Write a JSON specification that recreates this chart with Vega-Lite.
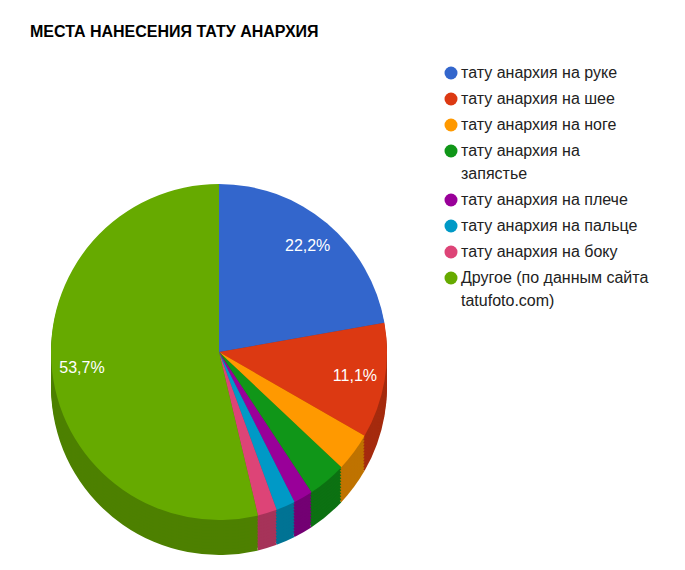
{
  "$schema": "https://vega.github.io/schema/vega-lite/v6.json",
  "autosize": "none",
  "padding": {"left": 0, "top": 65, "right": 247, "bottom": 0},
  "width": 438,
  "height": 574,
  "background": "white",
  "title": {
    "text": "МЕСТА НАНЕСЕНИЯ ТАТУ АНАРХИЯ",
    "anchor": "start",
    "orient": "top",
    "offset": 25,
    "dx": 30,
    "font": "Liberation Sans",
    "fontSize": 16,
    "fontWeight": "bold",
    "color": "#000000"
  },
  "data": {
    "values": [
      {"idx": 1, "place": "тату анархия на руке", "pct": 22.2, "label": "22,2%"},
      {"idx": 2, "place": "тату анархия на шее", "pct": 11.1, "label": "11,1%"},
      {"idx": 3, "place": "тату анархия на ноге", "pct": 3.7, "label": ""},
      {"idx": 4, "place": "тату анархия на запястье", "pct": 3.7, "label": ""},
      {"idx": 5, "place": "тату анархия на плече", "pct": 1.85, "label": ""},
      {"idx": 6, "place": "тату анархия на пальце", "pct": 1.85, "label": ""},
      {"idx": 7, "place": "тату анархия на боку", "pct": 1.85, "label": ""},
      {"idx": 8, "place": "Другое (по данным сайта tatufoto.com)", "pct": 53.7, "label": "53,7%"}
    ]
  },
  "encoding": {
    "theta": {"field": "pct", "type": "quantitative", "stack": true},
    "order": {"field": "idx", "type": "quantitative"}
  },
  "layer": [
    {
      "encoding": {
        "color": {
          "field": "place",
          "type": "nominal",
          "legend": null,
          "scale": {
            "domain": ["тату анархия на руке", "тату анархия на шее", "тату анархия на ноге", "тату анархия на запястье", "тату анархия на плече", "тату анархия на пальце", "тату анархия на боку", "Другое (по данным сайта tatufoto.com)"],
            "range": ["#264d99", "#a52b0e", "#bf7300", "#0c7112", "#730073", "#007394", "#a63359", "#4d8000"]
          }
        }
      },
      "layer": [
        {"mark": {"type": "arc", "outerRadius": 168, "yOffset": 35}},
        {"mark": {"type": "arc", "outerRadius": 168, "yOffset": 32}},
        {"mark": {"type": "arc", "outerRadius": 168, "yOffset": 29}},
        {"mark": {"type": "arc", "outerRadius": 168, "yOffset": 26}},
        {"mark": {"type": "arc", "outerRadius": 168, "yOffset": 23}},
        {"mark": {"type": "arc", "outerRadius": 168, "yOffset": 20}},
        {"mark": {"type": "arc", "outerRadius": 168, "yOffset": 17}},
        {"mark": {"type": "arc", "outerRadius": 168, "yOffset": 14}},
        {"mark": {"type": "arc", "outerRadius": 168, "yOffset": 11}},
        {"mark": {"type": "arc", "outerRadius": 168, "yOffset": 8}},
        {"mark": {"type": "arc", "outerRadius": 168, "yOffset": 5}},
        {"mark": {"type": "arc", "outerRadius": 168, "yOffset": 2}}
      ]
    },
    {
      "mark": {"type": "arc", "outerRadius": 168},
      "encoding": {
        "color": {
          "field": "place",
          "type": "nominal",
          "title": null,
          "scale": {
            "domain": ["тату анархия на руке", "тату анархия на шее", "тату анархия на ноге", "тату анархия на запястье", "тату анархия на плече", "тату анархия на пальце", "тату анархия на боку", "Другое (по данным сайта tatufoto.com)"],
            "range": ["#3366cc", "#dc3912", "#ff9900", "#109618", "#990099", "#0099c6", "#dd4477", "#66aa00"]
          },
          "legend": {
            "orient": "right",
            "offset": 5,
            "padding": 0,
            "symbolType": "circle",
            "symbolSize": 169,
            "symbolStrokeWidth": 0,
            "labelFont": "Liberation Sans",
            "labelFontSize": 16,
            "labelColor": "#222222",
            "labelLimit": 300,
            "labelOffset": 2,
            "labelBaseline": "middle",
            "labelExpr": "datum.label == 'тату анархия на запястье' ? ['тату анархия на', 'запястье'] : datum.label == 'Другое (по данным сайта tatufoto.com)' ? ['Другое (по данным сайта', 'tatufoto.com)'] : datum.label",
            "rowPadding": 10,
            "encoding": {"labels": {"lineHeight": {"value": 23}}}
          }
        }
      }
    },
    {
      "mark": {"type": "text", "radius": 138, "font": "Liberation Sans", "fontSize": 16, "color": "white"},
      "encoding": {"text": {"field": "label"}}
    }
  ],
  "resolve": {"scale": {"color": "independent"}},
  "config": {"view": {"stroke": null}}
}
